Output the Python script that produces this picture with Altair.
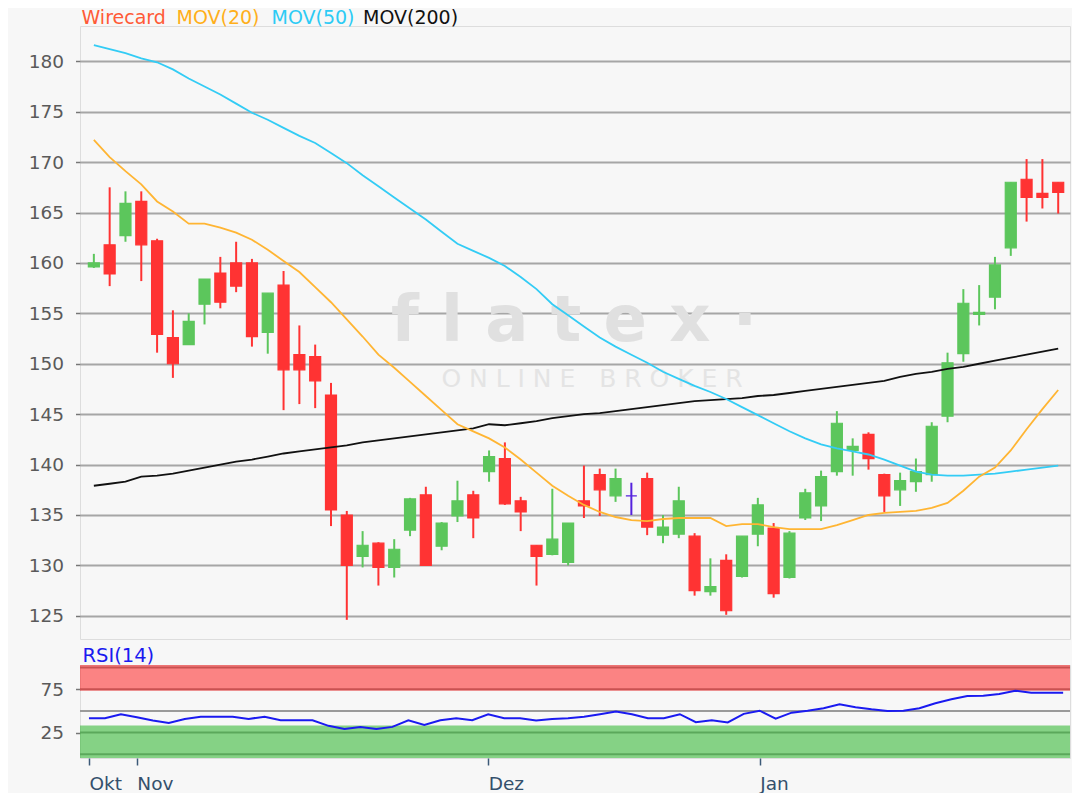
import altair as alt
import pandas as pd

# ---------------- data ----------------
idx = list(range(62))
opens = [159.6,161.8,162.7,166.1,162.2,152.6,151.9,155.9,159.0,160.0,
         160.0,153.1,157.8,150.9,150.7,146.9,135.0,130.9,132.2,129.8,
         133.5,137.0,131.9,134.9,137.0,139.3,140.6,136.4,132.0,131.1,
         130.3,136.4,139.0,136.9,136.9,138.6,133.0,133.1,132.9,127.4,
         130.5,128.9,133.1,133.7,128.8,134.7,135.9,139.3,141.4,143.0,
         139.0,137.5,138.3,139.0,144.8,151.0,154.9,156.6,161.5,168.3,
         166.9,168.0]
highs = [160.9,167.5,167.1,167.1,162.4,155.3,155.0,158.4,160.6,162.1,
         160.4,157.0,159.2,153.8,151.9,148.1,135.4,133.4,132.3,132.6,
         136.7,137.8,134.3,138.4,137.4,141.4,142.2,136.8,132.0,137.6,
         134.2,139.9,139.6,139.6,138.2,139.2,135.0,137.8,133.2,130.7,
         131.1,132.9,136.7,134.2,133.4,137.6,139.4,145.3,142.6,143.2,
         139.1,139.2,140.6,144.2,151.1,157.4,157.8,160.6,168.0,170.3,
         170.3,168.0]
lows = [159.5,157.7,162.1,158.2,151.1,148.6,151.9,153.9,155.5,157.1,
        151.7,151.0,145.4,146.0,145.6,133.9,124.6,129.8,128.0,128.8,
        132.9,130.0,131.5,134.3,132.7,138.3,136.0,133.4,128.0,131.0,
        130.0,134.7,134.9,136.3,135.0,133.0,132.2,132.7,127.0,127.0,
        125.1,128.8,131.9,126.8,128.7,134.5,134.4,138.9,138.9,139.5,
        135.3,135.9,137.3,138.3,144.2,150.2,153.8,155.4,160.7,164.1,
        165.4,164.9]
closes = [160.0,158.9,165.9,161.8,152.9,150.0,154.2,158.4,156.1,157.7,
          152.7,157.0,149.4,149.4,148.3,135.5,130.0,132.0,129.8,131.6,
          136.6,130.0,134.2,136.4,134.7,140.8,136.1,135.3,130.9,132.6,
          134.2,135.9,137.5,138.6,136.9,133.8,133.8,136.4,127.5,127.9,
          125.5,132.9,136.0,127.2,133.2,137.2,138.8,144.1,141.8,140.6,
          136.9,138.4,139.3,143.8,150.1,156.0,155.1,159.8,168.0,166.5,
          166.5,167.0]
mov20 = [172.2,170.5,169.1,167.8,166.1,165.1,163.9,163.9,163.5,163.0,
         162.3,161.3,160.2,159.1,157.6,156.1,154.4,152.7,150.9,149.6,
         148.2,146.8,145.4,144.0,143.3,142.6,141.7,140.5,139.2,137.9,
         136.9,136.0,135.3,134.8,134.5,134.4,134.6,134.7,134.7,134.7,
         133.9,134.1,134.1,133.8,133.6,133.6,133.6,134.0,134.5,135.0,
         135.2,135.3,135.4,135.7,136.2,137.4,138.8,139.7,141.4,143.5,
         145.5,147.4]
mov50 = [181.6,181.2,180.8,180.3,179.9,179.2,178.3,177.5,176.7,175.8,
         174.9,174.2,173.4,172.6,171.9,170.9,169.9,168.7,167.6,166.5,
         165.4,164.3,163.1,161.9,161.2,160.5,159.7,158.6,157.4,155.9,
         154.8,153.7,152.6,151.7,150.9,150.1,149.2,148.5,147.8,147.2,
         146.5,145.7,144.9,144.1,143.3,142.6,142.0,141.6,141.3,141.0,
         140.5,139.9,139.3,139.0,138.9,138.9,139.0,139.1,139.3,139.5,
         139.7,139.9]
mov200 = [137.9,138.1,138.3,138.8,138.9,139.1,139.4,139.7,140.0,140.3,
          140.5,140.8,141.1,141.3,141.5,141.7,141.9,142.2,142.4,142.6,
          142.8,143.0,143.2,143.4,143.6,144.0,143.9,144.1,144.3,144.6,
          144.8,145.0,145.1,145.3,145.5,145.7,145.9,146.1,146.3,146.4,
          146.5,146.6,146.8,146.9,147.1,147.3,147.5,147.7,147.9,148.1,
          148.3,148.7,149.0,149.2,149.5,149.7,150.0,150.3,150.6,150.9,
          151.2,151.5]
rsi = [41.6,41.6,46.2,42.8,38.9,36.2,40.8,43.4,43.4,43.4,
       40.8,43.4,39.3,39.3,39.3,32.8,29.3,31.6,29.3,31.6,
       39.3,33.9,39.3,41.6,39.3,46.2,41.6,41.6,38.9,40.8,
       41.6,43.4,46.2,49.2,46.2,41.6,41.6,46.2,37.0,39.3,
       36.8,46.6,50.3,41.1,48.0,50.3,53.1,57.7,54.3,51.9,
       50.0,50.3,53.1,58.9,63.4,67.2,67.6,69.5,73.3,71.0,
       71.0,71.0]
month_idx = [0, 3, 25, 42]
month_lbl = ["Okt", "Nov", "Dez", "Jan"]
price_ticks = [125, 130, 135, 140, 145, 150, 155, 160, 165, 170, 175, 180]
rsi_ticks = [25, 75]
rsi_grid = [0, 25, 50, 75, 100]
over_band = [73.4, 103]     # overbought zone (lo, hi)
under_band = [-4.3, 33.2]   # oversold zone (lo, hi)
legend_parts = ["Wirecard", "MOV(20)", "MOV(50)", "MOV(200)"]
NB = "\u00a0"
watermark = ["f l a t e x ·", NB.join("ONLINE") + NB * 3 + NB.join("BROKER")]

# ---------------- tables ----------------
df = pd.DataFrame({"i": idx, "o": opens, "h": highs, "l": lows, "c": closes,
                   "m20": mov20, "m50": mov50, "m200": mov200, "rsi": rsi})
df["dir"] = ["up" if c > o else ("down" if c < o else "flat") for o, c in zip(opens, closes)]

W, H1, H2 = 990, 613, 93
FONT = "DejaVu Sans"
LBL = 18.5
xscale = alt.Scale(domain=[-0.56, 61.43], nice=False, zero=False)
pscale = alt.Scale(domain=[122.7, 183.5], nice=False, zero=False)
rscale = alt.Scale(domain=[-4.3, 103], nice=False, zero=False)
dir_color = alt.Scale(domain=["up", "down", "flat"], range=["#5CC65C", "#FF3333", "#5522DD"])

base = alt.Chart(df)

wm1 = alt.Chart(pd.DataFrame({"t": [watermark[0]]})).mark_text(
    font=FONT, fontSize=64, fontWeight="bold", color="#E0E0E0", align="center", baseline="alphabetic"
).encode(x=alt.value(494), y=alt.value(315), text="t:N")
wm2 = alt.Chart(pd.DataFrame({"t": [watermark[1]]})).mark_text(
    font=FONT, fontSize=25, color="#E4E4E4", align="center", baseline="alphabetic"
).encode(x=alt.value(512), y=alt.value(361), text="t:N")

yaxis = alt.Axis(values=price_ticks, grid=True, gridColor="#A6A6A6", gridWidth=2,
                 tickSize=4.5, tickColor="#777777", tickWidth=1.5, domain=False,
                 labelColor="#5A5A5A", labelFontSize=LBL, labelPadding=12, title=None)

wicks = base.mark_rule(strokeWidth=2).encode(
    x=alt.X("i:Q", scale=xscale, axis=None),
    y=alt.Y("l:Q", scale=pscale, axis=yaxis),
    y2="h:Q",
    color=alt.Color("dir:N", scale=dir_color, legend=None),
)
bodies = base.mark_bar(size=11, strokeWidth=1.2).encode(
    x=alt.X("i:Q", scale=xscale),
    y=alt.Y("o:Q", scale=pscale),
    y2="c:Q",
    color=alt.Color("dir:N", scale=dir_color, legend=None),
    stroke=alt.Stroke("dir:N", scale=dir_color, legend=None),
)
l200 = base.mark_line(color="#111111", strokeWidth=1.8).encode(
    x=alt.X("i:Q", scale=xscale), y=alt.Y("m200:Q", scale=pscale))
l50 = base.mark_line(color="#33CCF5", strokeWidth=1.8).encode(
    x=alt.X("i:Q", scale=xscale), y=alt.Y("m50:Q", scale=pscale))
l20 = base.mark_line(color="#FFB533", strokeWidth=1.8).encode(
    x=alt.X("i:Q", scale=xscale), y=alt.Y("m20:Q", scale=pscale))

leg_colors = ["#FF5A36", "#FFAF1A", "#2CCBF5", "#111111"]
leg_x = [1.5, 96.5, 191.5, 283]
legend_marks = []
for txt, col, xp in zip(legend_parts, leg_colors, leg_x):
    legend_marks.append(
        alt.Chart(pd.DataFrame({"t": [txt]})).mark_text(
            font=FONT, fontSize=19, color=col, align="left", baseline="alphabetic"
        ).encode(x=alt.value(xp), y=alt.value(-2), text="t:N")
    )

main = alt.layer(wm1, wm2, wicks, bodies, l200, l50, l20, *legend_marks).properties(
    width=W, height=H1)

# ---------------- RSI panel ----------------
grid_df = pd.DataFrame({"g": rsi_grid})

rsi_y_axis = alt.Axis(values=rsi_ticks, grid=False, tickSize=4.5, tickColor="#777777", tickWidth=1.5,
                      domain=False, labelColor="#5A5A5A", labelFontSize=LBL, labelPadding=12,
                      title=None)
lbl_expr = " : ".join([f"datum.value == {v} ? '{t}'" for v, t in zip(month_idx, month_lbl)]) + " : ''"
rsi_x_axis = alt.Axis(values=month_idx, labelExpr=lbl_expr, grid=False, domain=False,
                      tickSize=7, tickColor="#3C5A78", tickWidth=1.5, labelColor="#34506C",
                      labelFontSize=LBL, labelAlign="left", labelPadding=9, title=None)

grid_rules = alt.Chart(grid_df).mark_rule(color="#9A9A9A", strokeWidth=2).encode(
    y=alt.Y("g:Q", scale=rscale, axis=rsi_y_axis))
band_over = alt.Chart(pd.DataFrame({"lo": [over_band[0]], "hi": [over_band[1]]})).mark_rect(
    color="#FF0000", opacity=0.47).encode(
    x=alt.value(0), x2=alt.value(W), y=alt.Y("lo:Q", scale=rscale), y2="hi:Q")
band_under = alt.Chart(pd.DataFrame({"lo": [under_band[0]], "hi": [under_band[1]]})).mark_rect(
    color="#28B428", opacity=0.55).encode(
    x=alt.value(0), x2=alt.value(W), y=alt.Y("lo:Q", scale=rscale), y2="hi:Q")
rsi_line = base.mark_line(color="#1A1AF0", strokeWidth=2).encode(
    x=alt.X("i:Q", scale=xscale, axis=rsi_x_axis), y=alt.Y("rsi:Q", scale=rscale))
rsi_title = alt.Chart(pd.DataFrame({"t": ["RSI(14)"]})).mark_text(
    font=FONT, fontSize=19.5, color="#1A1AF0", align="left", baseline="alphabetic"
).encode(x=alt.value(2.5), y=alt.value(-3.3), text="t:N")

rsi_panel = alt.layer(grid_rules, band_over, band_under, rsi_line, rsi_title).properties(
    width=W, height=H2)

chart = alt.vconcat(main, rsi_panel, spacing=5).properties(
    background="#F7F7F7",
    padding={"left": 19, "top": 0, "right": 0, "bottom": 0},
).configure_view(
    stroke="#5E5E5E", strokeWidth=2, fill="white"
).configure(font=FONT)

chart.save("out.html", embed_options={"renderer": "svg", "actions": False})
